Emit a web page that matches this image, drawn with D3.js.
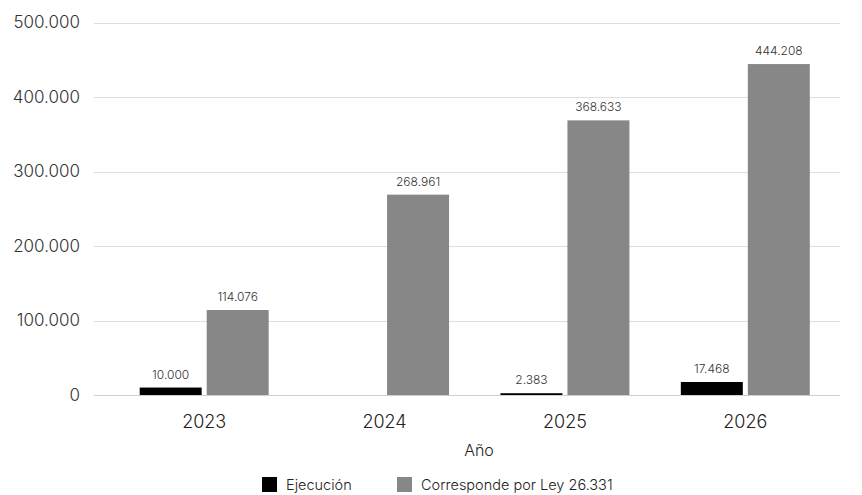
<!DOCTYPE html>
<html>
<head>
<meta charset="utf-8">
<script src="https://cdn.jsdelivr.net/npm/d3@7"></script>
<style>
  body { margin: 0; background: #fff; }
  text { font-family: Inter, "Open Sans", sans-serif; font-weight: 300; }
</style>
</head>
<body>
<div id="chart"></div>
<script>
var years = ["2023", "2024", "2025", "2026"];
var series = ["Ejecución", "Corresponde por Ley 26.331"];
var ejecucion = [10000, null, 2383, 17468];
var corresponde = [114076, 268961, 368633, 444208];
var yTicks = [0, 100000, 200000, 300000, 400000, 500000];
var colores = ["#000000", "#878787"];

var width = 862,
    height = 495;

var locale = d3.formatLocale({ decimal: ",", thousands: ".", grouping: [3], currency: ["$", ""] });
var fmt = locale.format(",d");

var svg = d3.select("#chart")
  .append("svg")
  .attr("width", width)
  .attr("height", height);

var y = d3.scaleLinear().domain([0, 500000]).range([395, 22.5]);

var x0 = d3.scaleBand()
  .domain(years)
  .range([114, 835.5])
  .paddingInner(0.285)
  .paddingOuter(0.1425);

var x1 = d3.scaleBand()
  .domain(series)
  .range([0, x0.bandwidth()])
  .paddingInner(0.075);

// lineas de grilla
svg.append("g")
  .selectAll("line")
  .data(yTicks)
  .join("line")
  .attr("x1", 94)
  .attr("x2", 840)
  .attr("y1", d => Math.round(y(d)) + 0.5)
  .attr("y2", d => Math.round(y(d)) + 0.5)
  .attr("stroke", d => d == 0 ? "#cfcfcf" : "#dedede")
  .attr("stroke-width", 1);

// etiquetas eje y
svg.append("g")
  .selectAll("text")
  .data(yTicks)
  .join("text")
  .attr("x", 80)
  .attr("y", d => y(d))
  .attr("dy", "0.35em")
  .attr("text-anchor", "end")
  .attr("font-size", 17)
  .attr("fill", "#333")
  .text(d => fmt(d));

var data = years.map(function (yr, i) {
  return { year: yr, values: [ejecucion[i], corresponde[i]] };
});

var groups = svg.append("g")
  .selectAll("g")
  .data(data)
  .join("g")
  .attr("transform", d => "translate(" + x0(d.year) + ",0)");

groups.selectAll("rect")
  .data(d => d.values.map((v, j) => ({ serie: series[j], value: v, j: j })).filter(e => e.value != null))
  .join("rect")
  .attr("x", d => x1(d.serie))
  .attr("width", x1.bandwidth())
  .attr("y", d => y(d.value))
  .attr("height", d => y(0) - y(d.value))
  .attr("fill", d => colores[d.j]);

groups.selectAll("text")
  .data(d => d.values.map((v, j) => ({ serie: series[j], value: v, j: j })).filter(e => e.value != null))
  .join("text")
  .attr("x", d => x1(d.serie) + x1.bandwidth() / 2)
  .attr("y", d => y(d.value) - 9)
  .attr("text-anchor", "middle")
  .attr("font-size", 12)
  .attr("fill", "#333")
  .text(d => fmt(d.value));

// etiquetas eje x
svg.append("g")
  .selectAll("text")
  .data(years)
  .join("text")
  .attr("x", d => x0(d) + x0.bandwidth() / 2)
  .attr("y", 428)
  .attr("text-anchor", "middle")
  .attr("font-size", 18)
  .attr("fill", "#222")
  .text(d => d);

svg.append("text")
  .attr("x", 479)
  .attr("y", 456)
  .attr("text-anchor", "middle")
  .attr("font-size", 16)
  .attr("fill", "#222")
  .text("Año");

// leyenda
var legendX = [262, 397];
var legend = svg.append("g")
  .selectAll("g")
  .data(series)
  .join("g")
  .attr("transform", (d, i) => "translate(" + legendX[i] + ",477)");

legend.append("rect")
  .attr("width", 15)
  .attr("height", 15)
  .attr("fill", (d, i) => colores[i]);

legend.append("text")
  .attr("x", 24)
  .attr("y", 12.5)
  .attr("font-size", 14.5)
  .attr("fill", "#222")
  .text(d => d);
</script>
</body>
</html>
